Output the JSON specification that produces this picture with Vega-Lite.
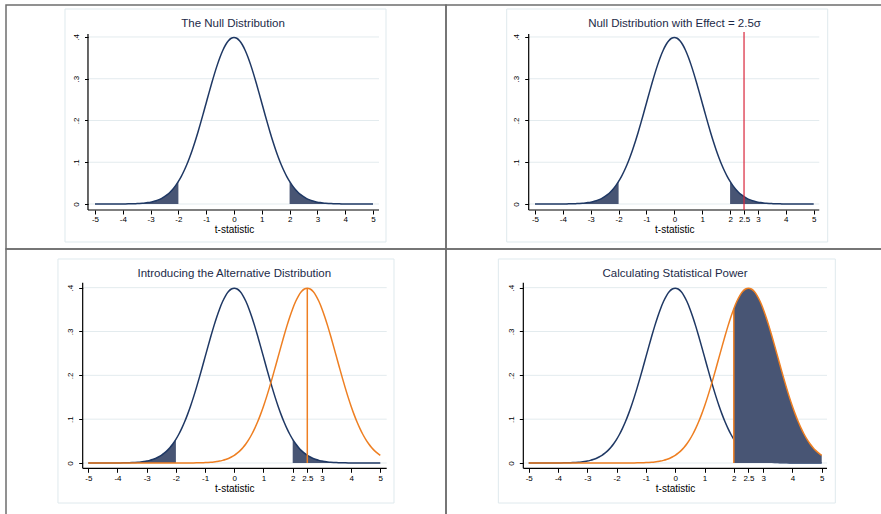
{
  "$schema": "https://vega.github.io/schema/vega-lite/v6.json",
  "padding": {"left": 5, "top": 4, "right": 0, "bottom": 0},
  "background": "white",
  "datasets": {
    "one": [{"k": 1}],
    "grid": [{"v": 0}, {"v": 0.1}, {"v": 0.2}, {"v": 0.3}, {"v": 0.4}],
    "d": [
      {"x": -5, "n": 0, "a": 0}, {"x": -4.9, "n": 0, "a": 0}, {"x": -4.8, "n": 0, "a": 0}, {"x": -4.7, "n": 0, "a": 0},
      {"x": -4.6, "n": 0, "a": 0}, {"x": -4.5, "n": 0, "a": 0}, {"x": -4.4, "n": 0, "a": 0}, {"x": -4.3, "n": 0, "a": 0},
      {"x": -4.2, "n": 0.0001, "a": 0}, {"x": -4.1, "n": 0.0001, "a": 0}, {"x": -4, "n": 0.0001, "a": 0},
      {"x": -3.9, "n": 0.0002, "a": 0}, {"x": -3.8, "n": 0.0003, "a": 0}, {"x": -3.7, "n": 0.0004, "a": 0},
      {"x": -3.6, "n": 0.0006, "a": 0}, {"x": -3.5, "n": 0.0009, "a": 0}, {"x": -3.4, "n": 0.0012, "a": 0},
      {"x": -3.3, "n": 0.0017, "a": 0}, {"x": -3.2, "n": 0.0024, "a": 0}, {"x": -3.1, "n": 0.0033, "a": 0},
      {"x": -3, "n": 0.0044, "a": 0}, {"x": -2.9, "n": 0.006, "a": 0}, {"x": -2.8, "n": 0.0079, "a": 0},
      {"x": -2.7, "n": 0.0104, "a": 0}, {"x": -2.6, "n": 0.0136, "a": 0}, {"x": -2.5, "n": 0.0175, "a": 0},
      {"x": -2.4, "n": 0.0224, "a": 0}, {"x": -2.3, "n": 0.0283, "a": 0}, {"x": -2.2, "n": 0.0355, "a": 0},
      {"x": -2.1, "n": 0.044, "a": 0}, {"x": -2, "n": 0.054, "a": 0}, {"x": -1.9, "n": 0.0656, "a": 0},
      {"x": -1.8, "n": 0.079, "a": 0}, {"x": -1.7, "n": 0.094, "a": 0.0001}, {"x": -1.6, "n": 0.1109, "a": 0.0001},
      {"x": -1.5, "n": 0.1295, "a": 0.0001}, {"x": -1.4, "n": 0.1497, "a": 0.0002}, {"x": -1.3, "n": 0.1714, "a": 0.0003},
      {"x": -1.2, "n": 0.1942, "a": 0.0004}, {"x": -1.1, "n": 0.2179, "a": 0.0006}, {"x": -1, "n": 0.242, "a": 0.0009},
      {"x": -0.9, "n": 0.2661, "a": 0.0012}, {"x": -0.8, "n": 0.2897, "a": 0.0017}, {"x": -0.7, "n": 0.3123, "a": 0.0024},
      {"x": -0.6, "n": 0.3332, "a": 0.0033}, {"x": -0.5, "n": 0.3521, "a": 0.0044}, {"x": -0.4, "n": 0.3683, "a": 0.006},
      {"x": -0.3, "n": 0.3814, "a": 0.0079}, {"x": -0.2, "n": 0.391, "a": 0.0104}, {"x": -0.1, "n": 0.397, "a": 0.0136},
      {"x": 0, "n": 0.3989, "a": 0.0175}, {"x": 0.1, "n": 0.397, "a": 0.0224}, {"x": 0.2, "n": 0.391, "a": 0.0283},
      {"x": 0.3, "n": 0.3814, "a": 0.0355}, {"x": 0.4, "n": 0.3683, "a": 0.044}, {"x": 0.5, "n": 0.3521, "a": 0.054},
      {"x": 0.6, "n": 0.3332, "a": 0.0656}, {"x": 0.7, "n": 0.3123, "a": 0.079}, {"x": 0.8, "n": 0.2897, "a": 0.094},
      {"x": 0.9, "n": 0.2661, "a": 0.1109}, {"x": 1, "n": 0.242, "a": 0.1295}, {"x": 1.1, "n": 0.2179, "a": 0.1497},
      {"x": 1.2, "n": 0.1942, "a": 0.1714}, {"x": 1.3, "n": 0.1714, "a": 0.1942}, {"x": 1.4, "n": 0.1497, "a": 0.2179},
      {"x": 1.5, "n": 0.1295, "a": 0.242}, {"x": 1.6, "n": 0.1109, "a": 0.2661}, {"x": 1.7, "n": 0.094, "a": 0.2897},
      {"x": 1.8, "n": 0.079, "a": 0.3123}, {"x": 1.9, "n": 0.0656, "a": 0.3332}, {"x": 2, "n": 0.054, "a": 0.3521},
      {"x": 2.1, "n": 0.044, "a": 0.3683}, {"x": 2.2, "n": 0.0355, "a": 0.3814}, {"x": 2.3, "n": 0.0283, "a": 0.391},
      {"x": 2.4, "n": 0.0224, "a": 0.397}, {"x": 2.5, "n": 0.0175, "a": 0.3989}, {"x": 2.6, "n": 0.0136, "a": 0.397},
      {"x": 2.7, "n": 0.0104, "a": 0.391}, {"x": 2.8, "n": 0.0079, "a": 0.3814}, {"x": 2.9, "n": 0.006, "a": 0.3683},
      {"x": 3, "n": 0.0044, "a": 0.3521}, {"x": 3.1, "n": 0.0033, "a": 0.3332}, {"x": 3.2, "n": 0.0024, "a": 0.3123},
      {"x": 3.3, "n": 0.0017, "a": 0.2897}, {"x": 3.4, "n": 0.0012, "a": 0.2661}, {"x": 3.5, "n": 0.0009, "a": 0.242},
      {"x": 3.6, "n": 0.0006, "a": 0.2179}, {"x": 3.7, "n": 0.0004, "a": 0.1942}, {"x": 3.8, "n": 0.0003, "a": 0.1714},
      {"x": 3.9, "n": 0.0002, "a": 0.1497}, {"x": 4, "n": 0.0001, "a": 0.1295}, {"x": 4.1, "n": 0.0001, "a": 0.1109},
      {"x": 4.2, "n": 0.0001, "a": 0.094}, {"x": 4.3, "n": 0, "a": 0.079}, {"x": 4.4, "n": 0, "a": 0.0656},
      {"x": 4.5, "n": 0, "a": 0.054}, {"x": 4.6, "n": 0, "a": 0.044}, {"x": 4.7, "n": 0, "a": 0.0355},
      {"x": 4.8, "n": 0, "a": 0.0283}, {"x": 4.9, "n": 0, "a": 0.0224}, {"x": 5, "n": 0, "a": 0.0175}
    ]
  },
  "columns": 2,
  "spacing": 0,
  "bounds": "flush",
  "concat": [
    {
      "width": 440, "height": 244,
      "view": {"stroke": "#6e6e6e", "strokeWidth": 1.5},
      "title": {"text": "The Null Distribution", "anchor": "middle", "baseline": "middle", "offset": 0, "dy": 30, "dx": 7},
      "layer": [
        {"data": {"name": "one"}, "mark": {"type": "rect", "filled": false, "color": "#dfe9ed", "strokeWidth": 1},
         "encoding": {"x": {"datum": -6.079, "type": "quantitative", "scale": {"domain": [-8.201, 7.626], "nice": false, "zero": false}}, "x2": {"datum": 5.468},
                      "y": {"datum": 0.467, "type": "quantitative", "scale": {"domain": [-0.1078, 0.4766], "nice": false, "zero": false}}, "y2": {"datum": -0.091}}},
        {"data": {"name": "grid"}, "mark": {"type": "rule", "color": "#e3ebee", "strokeWidth": 1},
         "encoding": {"y": {"field": "v", "type": "quantitative"}, "x": {"datum": -5.252, "type": "quantitative"}, "x2": {"datum": 5.216}}},
        {"data": {"name": "one"}, "mark": {"type": "rule", "color": "#000000", "strokeWidth": 1.2},
         "encoding": {"x": {"datum": -5.252, "type": "quantitative"}, "y": {"datum": -0.0144, "type": "quantitative"}, "y2": {"datum": 0.4072}}},
        {"data": {"name": "one"}, "mark": {"type": "rule", "color": "#000000", "strokeWidth": 1.2},
         "encoding": {"y": {"datum": -0.0144, "type": "quantitative"}, "x": {"datum": -5.252, "type": "quantitative"}, "x2": {"datum": 5.216}}},
        {"data": {"name": "d"}, "transform": [{"filter": "datum.x <= -2"}], "mark": {"type": "area", "color": "#485574", "interpolate": "monotone"},
         "encoding": {"x": {"field": "x", "type": "quantitative"}, "y": {"field": "n", "type": "quantitative"}, "y2": {"datum": 0}}},
        {"data": {"name": "d"}, "transform": [{"filter": "datum.x >= 2"}], "mark": {"type": "area", "color": "#485574", "interpolate": "monotone"},
         "encoding": {"x": {"field": "x", "type": "quantitative"}, "y": {"field": "n", "type": "quantitative"}, "y2": {"datum": 0}}},
        {"data": {"name": "d"}, "mark": {"type": "line", "color": "#1f3864", "strokeWidth": 1.5, "interpolate": "monotone"},
         "encoding": {
           "x": {"field": "x", "type": "quantitative", "axis": {"values": [-5, -4, -3, -2, -1, 0, 1, 2, 3, 4, 5], "tickCount": 20, "labelExpr": "'' + datum.value", "offset": -39, "title": "t-statistic", "titleX": 228, "titlePadding": 1, "labelPadding": 1, "labelOverlap": false, "labelFlush": false}},
           "y": {"field": "n", "type": "quantitative", "axis": {"values": [0, 0.1, 0.2, 0.3, 0.4], "tickCount": 20, "labelExpr": "datum.value == 0 ? '0' : replace('' + datum.value, '0.', '.')", "labelAngle": 270, "labelAlign": "center", "labelBaseline": "bottom", "labelPadding": 4, "offset": -82.5, "title": null}}
         }}
      ]
    },
    {
      "width": 438, "height": 244,
      "view": {"stroke": "#6e6e6e", "strokeWidth": 1.5},
      "title": {"text": "Null Distribution with Effect = 2.5σ", "anchor": "middle", "baseline": "middle", "offset": 0, "dy": 30, "dx": 9.5},
      "layer": [
        {"data": {"name": "one"}, "mark": {"type": "rect", "filled": false, "color": "#dfe9ed", "strokeWidth": 1},
         "encoding": {"x": {"datum": -6.015, "type": "quantitative", "scale": {"domain": [-8.193, 7.522], "nice": false, "zero": false}}, "x2": {"datum": 5.502},
                      "y": {"datum": 0.467, "type": "quantitative", "scale": {"domain": [-0.1078, 0.4766], "nice": false, "zero": false}}, "y2": {"datum": -0.091}}},
        {"data": {"name": "grid"}, "mark": {"type": "rule", "color": "#e3ebee", "strokeWidth": 1},
         "encoding": {"y": {"field": "v", "type": "quantitative"}, "x": {"datum": -5.226, "type": "quantitative"}, "x2": {"datum": 5.2}}},
        {"data": {"name": "one"}, "mark": {"type": "rule", "color": "#000000", "strokeWidth": 1.2},
         "encoding": {"x": {"datum": -5.226, "type": "quantitative"}, "y": {"datum": -0.0144, "type": "quantitative"}, "y2": {"datum": 0.4072}}},
        {"data": {"name": "one"}, "mark": {"type": "rule", "color": "#000000", "strokeWidth": 1.2},
         "encoding": {"y": {"datum": -0.0144, "type": "quantitative"}, "x": {"datum": -5.226, "type": "quantitative"}, "x2": {"datum": 5.2}}},
        {"data": {"name": "d"}, "transform": [{"filter": "datum.x <= -2"}], "mark": {"type": "area", "color": "#485574", "interpolate": "monotone"},
         "encoding": {"x": {"field": "x", "type": "quantitative"}, "y": {"field": "n", "type": "quantitative"}, "y2": {"datum": 0}}},
        {"data": {"name": "d"}, "transform": [{"filter": "datum.x >= 2"}], "mark": {"type": "area", "color": "#485574", "interpolate": "monotone"},
         "encoding": {"x": {"field": "x", "type": "quantitative"}, "y": {"field": "n", "type": "quantitative"}, "y2": {"datum": 0}}},
        {"data": {"name": "d"}, "mark": {"type": "line", "color": "#1f3864", "strokeWidth": 1.5, "interpolate": "monotone"},
         "encoding": {
           "x": {"field": "x", "type": "quantitative", "axis": {"values": [-5, -4, -3, -2, -1, 0, 1, 2, 2.5, 3, 4, 5], "tickCount": 20, "labelExpr": "'' + datum.value", "offset": -39, "title": "t-statistic", "titleX": 228.3, "titlePadding": 1, "labelPadding": 1, "labelOverlap": false, "labelFlush": false}},
           "y": {"field": "n", "type": "quantitative", "axis": {"values": [0, 0.1, 0.2, 0.3, 0.4], "tickCount": 20, "labelExpr": "datum.value == 0 ? '0' : replace('' + datum.value, '0.', '.')", "labelAngle": 270, "labelAlign": "center", "labelBaseline": "bottom", "labelPadding": 4, "offset": -82.7, "title": null}}
         }},
        {"data": {"name": "one"}, "mark": {"type": "rule", "color": "#d9263b", "strokeWidth": 1.2},
         "encoding": {"x": {"datum": 2.5, "type": "quantitative"}, "y": {"datum": -0.0144, "type": "quantitative"}, "y2": {"datum": 0.412}}}
      ]
    },
    {
      "width": 440, "height": 268,
      "view": {"stroke": "#6e6e6e", "strokeWidth": 1.5},
      "title": {"text": "Introducing the Alternative Distribution", "anchor": "middle", "baseline": "middle", "offset": 0, "dy": 36.3, "dx": 8.3},
      "layer": [
        {"data": {"name": "one"}, "mark": {"type": "rect", "filled": false, "color": "#dfe9ed", "strokeWidth": 1},
         "encoding": {"x": {"datum": -6.038, "type": "quantitative", "scale": {"domain": [-7.818, 7.25], "nice": false, "zero": false}}, "x2": {"datum": 5.469},
                      "y": {"datum": 0.4654, "type": "quantitative", "scale": {"domain": [-0.1232, 0.4882], "nice": false, "zero": false}}, "y2": {"datum": -0.0913}}},
        {"data": {"name": "grid"}, "mark": {"type": "rule", "color": "#e3ebee", "strokeWidth": 1},
         "encoding": {"y": {"field": "v", "type": "quantitative"}, "x": {"datum": -5.192, "type": "quantitative"}, "x2": {"datum": 5.219}}},
        {"data": {"name": "one"}, "mark": {"type": "rule", "color": "#000000", "strokeWidth": 1.2},
         "encoding": {"x": {"datum": -5.192, "type": "quantitative"}, "y": {"datum": -0.0121, "type": "quantitative"}, "y2": {"datum": 0.4114}}},
        {"data": {"name": "one"}, "mark": {"type": "rule", "color": "#000000", "strokeWidth": 1.2},
         "encoding": {"y": {"datum": -0.0121, "type": "quantitative"}, "x": {"datum": -5.192, "type": "quantitative"}, "x2": {"datum": 5.219}}},
        {"data": {"name": "d"}, "transform": [{"filter": "datum.x <= -2"}], "mark": {"type": "area", "color": "#485574", "interpolate": "monotone"},
         "encoding": {"x": {"field": "x", "type": "quantitative"}, "y": {"field": "n", "type": "quantitative"}, "y2": {"datum": 0}}},
        {"data": {"name": "d"}, "transform": [{"filter": "datum.x >= 2"}], "mark": {"type": "area", "color": "#485574", "interpolate": "monotone"},
         "encoding": {"x": {"field": "x", "type": "quantitative"}, "y": {"field": "n", "type": "quantitative"}, "y2": {"datum": 0}}},
        {"data": {"name": "d"}, "mark": {"type": "line", "color": "#1f3864", "strokeWidth": 1.5, "interpolate": "monotone"},
         "encoding": {
           "x": {"field": "x", "type": "quantitative", "axis": {"values": [-5, -4, -3, -2, -1, 0, 1, 2, 2.5, 3, 4, 5], "tickCount": 20, "labelExpr": "'' + datum.value", "offset": -48.7, "title": "t-statistic", "titleX": 228.3, "titlePadding": 1, "labelPadding": 2, "labelOverlap": false, "labelFlush": false}},
           "y": {"field": "n", "type": "quantitative", "axis": {"values": [0, 0.1, 0.2, 0.3, 0.4], "tickCount": 20, "labelExpr": "datum.value == 0 ? '0' : replace('' + datum.value, '0.', '.')", "labelAngle": 270, "labelAlign": "center", "labelBaseline": "bottom", "labelPadding": 4, "offset": -76.7, "title": null}}
         }},
        {"data": {"name": "d"}, "mark": {"type": "line", "color": "#ee7f22", "strokeWidth": 1.5, "interpolate": "monotone"},
         "encoding": {"x": {"field": "x", "type": "quantitative"}, "y": {"field": "a", "type": "quantitative"}}},
        {"data": {"name": "one"}, "mark": {"type": "rule", "color": "#ee7f22", "strokeWidth": 1.5},
         "encoding": {"x": {"datum": 2.5, "type": "quantitative"}, "y": {"datum": 0, "type": "quantitative"}, "y2": {"datum": 0.3989}}}
      ]
    },
    {
      "width": 438, "height": 268,
      "view": {"stroke": "#6e6e6e", "strokeWidth": 1.5},
      "title": {"text": "Calculating Statistical Power", "anchor": "middle", "baseline": "middle", "offset": 0, "dy": 36.3, "dx": 10},
      "layer": [
        {"data": {"name": "one"}, "mark": {"type": "rect", "filled": false, "color": "#dfe9ed", "strokeWidth": 1},
         "encoding": {"x": {"datum": -6.037, "type": "quantitative", "scale": {"domain": [-7.823, 7.126], "nice": false, "zero": false}}, "x2": {"datum": 5.464},
                      "y": {"datum": 0.4654, "type": "quantitative", "scale": {"domain": [-0.1232, 0.4882], "nice": false, "zero": false}}, "y2": {"datum": -0.0913}}},
        {"data": {"name": "grid"}, "mark": {"type": "rule", "color": "#e3ebee", "strokeWidth": 1},
         "encoding": {"y": {"field": "v", "type": "quantitative"}, "x": {"datum": -5.184, "type": "quantitative"}, "x2": {"datum": 5.181}}},
        {"data": {"name": "one"}, "mark": {"type": "rule", "color": "#000000", "strokeWidth": 1.2},
         "encoding": {"x": {"datum": -5.184, "type": "quantitative"}, "y": {"datum": -0.0121, "type": "quantitative"}, "y2": {"datum": 0.4114}}},
        {"data": {"name": "one"}, "mark": {"type": "rule", "color": "#000000", "strokeWidth": 1.2},
         "encoding": {"y": {"datum": -0.0121, "type": "quantitative"}, "x": {"datum": -5.184, "type": "quantitative"}, "x2": {"datum": 5.181}}},
        {"data": {"name": "d"}, "mark": {"type": "line", "color": "#1f3864", "strokeWidth": 1.5, "interpolate": "monotone"},
         "encoding": {
           "x": {"field": "x", "type": "quantitative", "axis": {"values": [-5, -4, -3, -2, -1, 0, 1, 2, 2.5, 3, 4, 5], "tickCount": 20, "labelExpr": "'' + datum.value", "offset": -48.7, "title": "t-statistic", "titleX": 229, "titlePadding": 1, "labelPadding": 2, "labelOverlap": false, "labelFlush": false}},
           "y": {"field": "n", "type": "quantitative", "axis": {"values": [0, 0.1, 0.2, 0.3, 0.4], "tickCount": 20, "labelExpr": "datum.value == 0 ? '0' : replace('' + datum.value, '0.', '.')", "labelAngle": 270, "labelAlign": "center", "labelBaseline": "bottom", "labelPadding": 4, "offset": -77.3, "title": null}}
         }},
        {"data": {"name": "d"}, "transform": [{"filter": "datum.x >= 2"}], "mark": {"type": "area", "color": "#485574", "interpolate": "monotone"},
         "encoding": {"x": {"field": "x", "type": "quantitative"}, "y": {"field": "a", "type": "quantitative"}, "y2": {"datum": 0}}},
        {"data": {"name": "d"}, "mark": {"type": "line", "color": "#ee7f22", "strokeWidth": 1.5, "interpolate": "monotone"},
         "encoding": {"x": {"field": "x", "type": "quantitative"}, "y": {"field": "a", "type": "quantitative"}}},
        {"data": {"name": "one"}, "mark": {"type": "rule", "color": "#ee7f22", "strokeWidth": 1.5},
         "encoding": {"x": {"datum": 2, "type": "quantitative"}, "y": {"datum": 0, "type": "quantitative"}, "y2": {"datum": 0.3521}}}
      ]
    }
  ],
  "config": {
    "view": {"stroke": null},
    "axis": {"domain": false, "grid": false, "ticks": true, "tickColor": "#000000", "tickSize": 4, "tickWidth": 1, "tickCount": 20, "labelFont": "Liberation Sans", "labelFontSize": 8, "labelColor": "#000000", "labelOverlap": false, "labelFlush": false, "labelBound": false, "titleFont": "Liberation Sans", "titleFontSize": 10, "titleFontWeight": "normal", "titleColor": "#000000"},
    "title": {"font": "Liberation Sans", "fontSize": 11.5, "fontWeight": "normal", "color": "#1c2a48"}
  }
}
